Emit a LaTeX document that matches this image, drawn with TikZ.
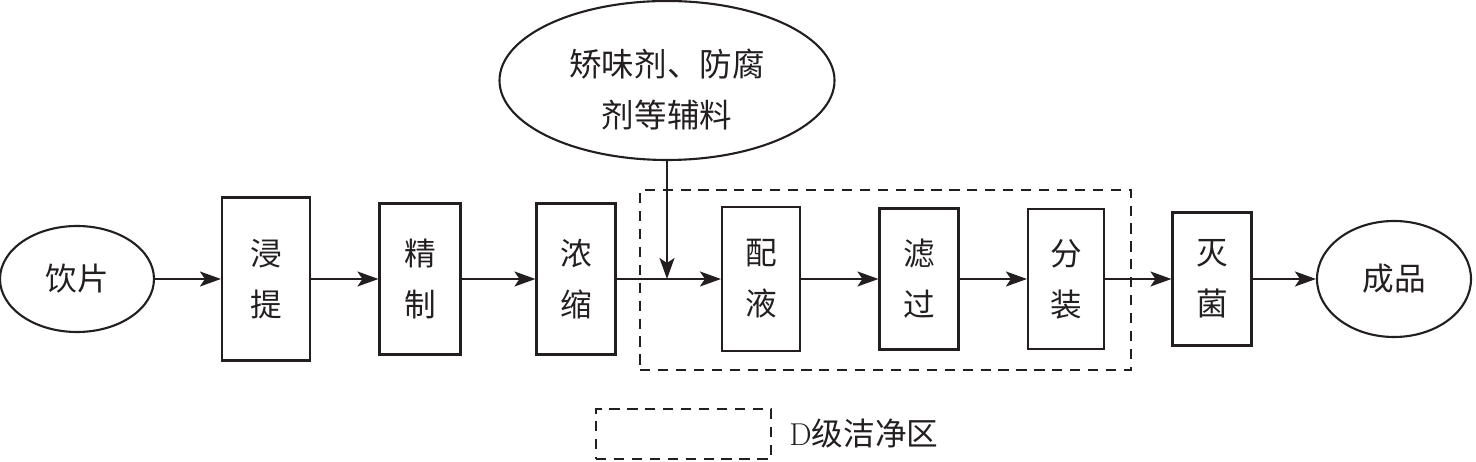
\documentclass[tikz,border=0pt]{standalone}
\usepackage{fontspec}
\newfontfamily\cjk{Noto Sans CJK SC}
\usetikzlibrary{
  positioning,
  shapes.geometric,
  arrows.meta,
}
\definecolor{border}{HTML}{231F20}
\tikzset{
  stepbox/.style={
    rectangle, draw=border, line width=1.2pt, align=center,
    minimum width=1.58cm, inner sep=0pt, text=border,
    font=\cjk\fontsize{18}{29}\selectfont,
  },
  roundbox/.style={
    ellipse, draw=border, line width=1.2pt, align=center,
    inner sep=0pt, text=border, font=\cjk\fontsize{18}{29}\selectfont,
  },
  plaintext/.style={
    align=center, inner sep=0pt, text=border,
    font=\cjk\fontsize{18.5}{29.5}\selectfont,
  },
  dashframe/.style={
    rectangle, draw=border, line width=1.2pt,
    dash pattern=on 5.8pt off 4.4pt, inner sep=0pt,
  },
  arrow/.style={-{Stealth[length=0.42cm, width=0.3cm, inset=0.1cm]}, border, line width=1.2pt},
}
\begin{document}
\begin{tikzpicture}
  \useasboundingbox (0,0) rectangle (29.52,9.24);

  % Clean zone
  \node[dashframe, minimum width=9.82cm, minimum height=3.60cm] (cleanframe) at (17.71, 3.64) {};

  % Main flow
  \node[roundbox, minimum width=3.08cm, minimum height=2.12cm] (pian) at (1.54, 3.66) {饮片};
  \node[stepbox, minimum width=1.76cm, minimum height=3.26cm] (jin) at (5.32, 3.66) {浸\\提};
  \node[stepbox, minimum width=1.62cm, minimum height=3.02cm] (jing) at (8.40, 3.66) {精\\制};
  \node[stepbox, minimum height=3.02cm] (nong) at (11.52, 3.66) {浓\\缩};
  \node[stepbox, minimum width=1.56cm, minimum height=2.88cm] (pei) at (15.22, 3.66) {配\\液};
  \node[stepbox, minimum height=2.82cm] (lv) at (18.38, 3.66) {滤\\过};
  \node[stepbox, minimum width=1.52cm, minimum height=2.80cm] (fen) at (21.32, 3.66) {分\\装};
  \node[stepbox, minimum height=2.66cm] (mie) at (24.24, 3.66) {灭\\菌};
  \node[roundbox, minimum width=3.08cm, minimum height=2.32cm] (pin) at (27.88, 3.66) {成品};

  \draw[arrow] (pian) -- (jin);
  \draw[arrow] (jin) -- (jing);
  \draw[arrow] (jing) -- (nong);
  \draw[arrow] (nong) -- (pei);
  \draw[arrow] (pei) -- (lv);
  \draw[arrow] (lv) -- (fen);
  \draw[arrow] (fen) -- (mie);
  \draw[arrow] (mie) -- (pin);

  % Additives
  \node[roundbox, minimum width=6.70cm, minimum height=3.18cm] (aux) at (13.34, 7.63) {};
  \node[plaintext] (auxtext) at ([yshift=-0.18cm]aux.center) {矫味剂、防腐\\剂等辅料};
  \coordinate (mix) at (13.34, 3.66);
  \draw[arrow] (aux.south) -- (mix);

  % Legend
  \node[dashframe, minimum width=3.50cm, minimum height=1.00cm] (legbox) at (13.67, 0.56) {};
  \node[right=0.34cm of legbox, inner sep=0pt, text=border, font=\fontsize{18}{22}\selectfont] (legtext) {D\cjk 级洁净区};

\end{tikzpicture}
\end{document}
